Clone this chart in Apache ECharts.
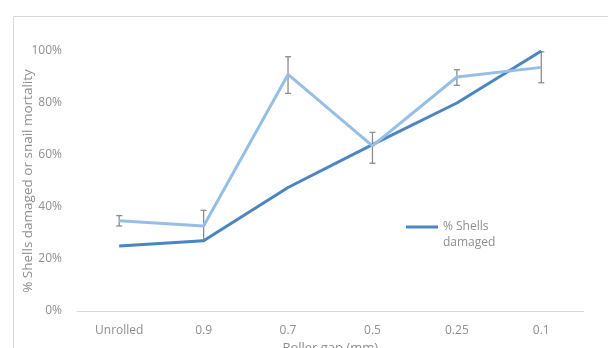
<!DOCTYPE html>
<html lang="en">
<head>
  <meta charset="UTF-8" />
  <title>Roller gap vs shell damage</title>
  <script src="https://cdn.jsdelivr.net/npm/echarts@6/dist/echarts.min.js"></script>
  <style>
    html, body { margin: 0; padding: 0; background: #fff; }
    #chart { width: 608px; height: 348px; }
  </style>
</head>
<body>
  <div id="chart"></div>
  <script>
    var categories = ["Unrolled", "0.9", "0.7", "0.5", "0.25", "0.1"];
    var shellsDamaged = [25, 27, 47.5, 64, 80, 100];
    var snailMortality = [34.7, 32.7, 91, 63.5, 90, 93.7];
    var errLow = [32.7, 27.3, 83.7, 56.8, 86.8, 87.8];
    var errHigh = [36.7, 38.7, 97.8, 68.7, 92.8, 99.7];
    var yTicks = [0, 20, 40, 60, 80, 100];

    var errData = categories.map(function (c, i) {
      return [i, errLow[i], errHigh[i]];
    });

    var chart = echarts.init(document.getElementById("chart"));
    var txt = "#8f8f8f";
    var font = "'Open Sans', 'Noto Sans', sans-serif";

    chart.setOption({
      animation: false,
      textStyle: { fontFamily: font },
      graphic: [{
        type: "rect",
        shape: { x: 13.5, y: 16.5, width: 700, height: 400 },
        style: { fill: "none", stroke: "#d9d9d9", lineWidth: 1 },
        z: -10
      }, {
        // legend label wraps onto a second line in the original
        type: "text",
        left: 443, top: 237,
        style: { text: "damaged", fill: txt, font: "12px " + font }
      }],
      grid: { left: 77, right: 24.5, top: 51, bottom: 37, containLabel: false, outerBoundsMode: "none" },
      legend: {
        data: ["% Shells damaged"],
        left: 401, top: 216,
        itemWidth: 32, itemHeight: 3,
        icon: "rect",
        formatter: function () { return "% Shells"; },
        textStyle: { color: txt, fontSize: 12, fontFamily: font }
      },
      xAxis: {
        type: "category",
        data: categories,
        name: "Roller gap (mm)",
        nameLocation: "middle",
        nameGap: 28,
        nameTextStyle: { color: txt, fontSize: 13, fontFamily: font },
        axisLine: { lineStyle: { color: "#d9d9d9" } },
        axisTick: { show: false },
        axisLabel: { color: txt, fontSize: 12, margin: 14, fontFamily: font }
      },
      yAxis: {
        type: "value",
        min: yTicks[0], max: yTicks[yTicks.length - 1], interval: 20,
        name: "% Shells damaged or snail mortality",
        nameLocation: "middle",
        nameGap: 42,
        nameMoveOverlap: false,
        nameTextStyle: { color: txt, fontSize: 13.5, fontFamily: font },
        axisLine: { show: false },
        axisTick: { show: false },
        splitLine: { show: false },
        axisLabel: { color: txt, fontSize: 12, margin: 15, formatter: "{value}%", fontFamily: font }
      },
      series: [
        {
          name: "error",
          type: "custom",
          data: errData,
          z: 1,
          renderItem: function (params, api) {
            var i = api.value(0);
            var top = api.coord([i, api.value(2)]);
            var bot = api.coord([i, api.value(1)]);
            var cap = 3;
            var st = { stroke: "#8c8c8c", lineWidth: 1.3 };
            return {
              type: "group",
              children: [
                { type: "line", shape: { x1: top[0], y1: top[1], x2: bot[0], y2: bot[1] }, style: st },
                { type: "line", shape: { x1: top[0] - cap, y1: top[1], x2: top[0] + cap, y2: top[1] }, style: st },
                { type: "line", shape: { x1: bot[0] - cap, y1: bot[1], x2: bot[0] + cap, y2: bot[1] }, style: st }
              ]
            };
          }
        },
        {
          name: "% Snail mortality",
          type: "line",
          data: snailMortality,
          symbol: "none",
          z: 3,
          lineStyle: { color: "#97bee6", width: 3 },
          itemStyle: { color: "#97bee6" }
        },
        {
          name: "% Shells damaged",
          type: "line",
          data: shellsDamaged,
          symbol: "none",
          z: 2,
          lineStyle: { color: "#4a86c1", width: 3 },
          itemStyle: { color: "#4a86c1" }
        }
      ]
    });
  </script>
</body>
</html>
